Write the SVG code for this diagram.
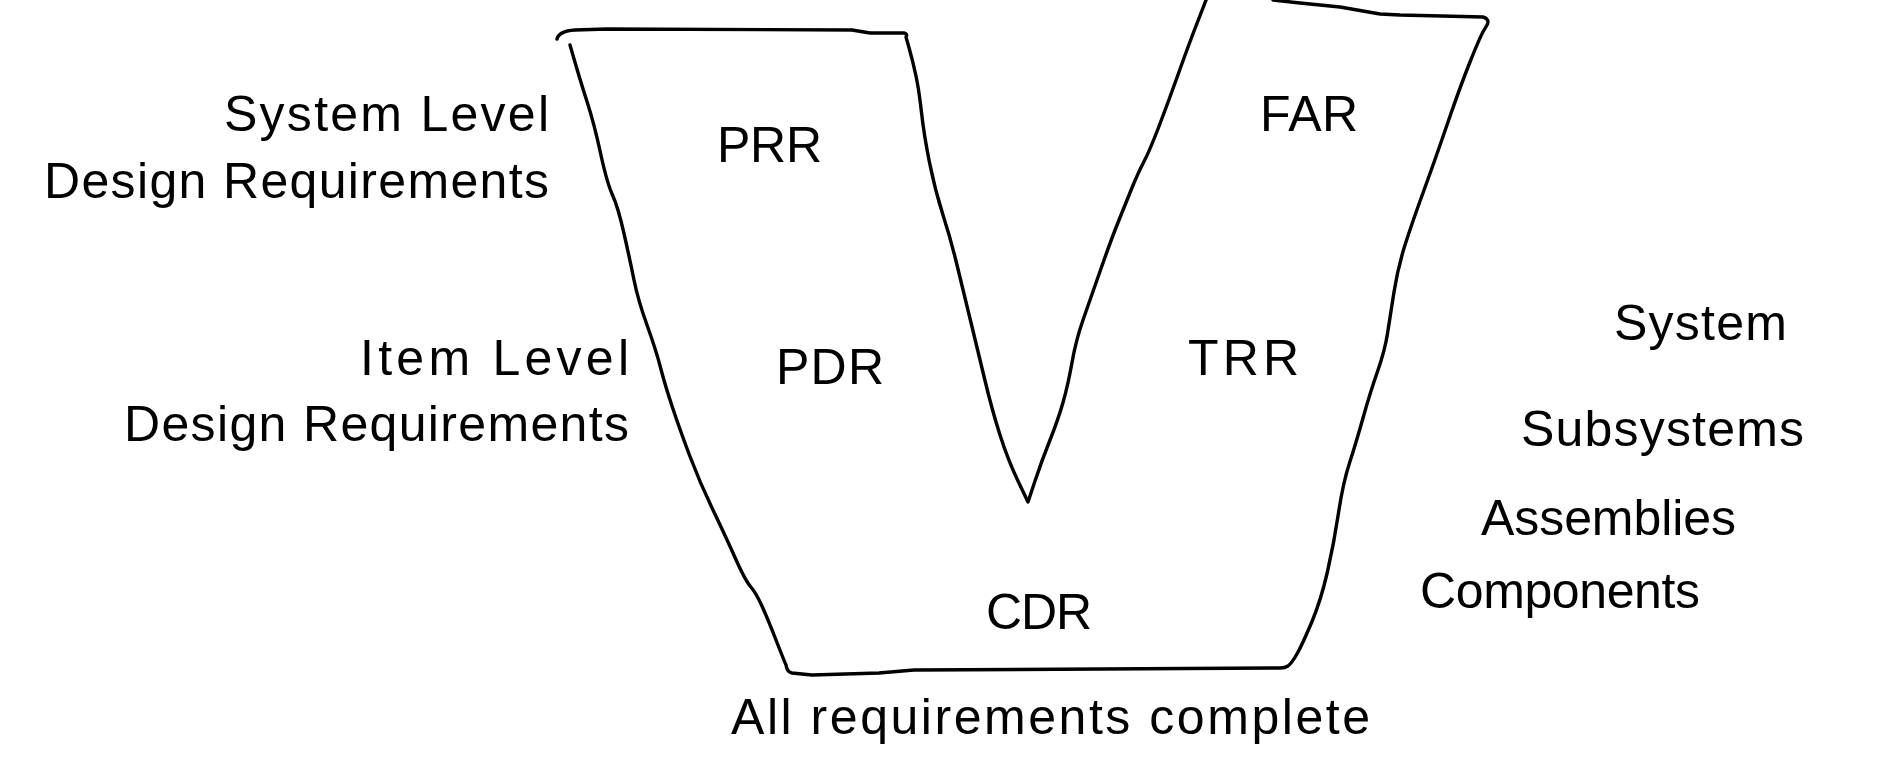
<svg xmlns="http://www.w3.org/2000/svg" width="1881" height="779" viewBox="0 0 1881 779">
  <style>
    .outline { fill: none; stroke: #000; stroke-width: 3.4; stroke-linecap: round; stroke-linejoin: round; }
    .lbl { font-family: "Liberation Sans", Arial, sans-serif; font-size: 50px; fill: #000; }
  </style>
  <rect x="0" y="0" width="1881" height="779" fill="#fff"/>

  <g id="v-shape">
    <path class="outline" d="M 557 39 Q 559 31 575 30 L 607 29 L 852 30 L 870 33 L 904 33 Q 908 34 906 37
      L 909.5 49.5 Q 913 62 916 76 Q 919 90 921.5 112.5 Q 924 135 929.5 162.5 Q 935 190 943 215 Q 951 240 957 265 Q 963 290 970 318.5 Q 977 347 984.5 378.5 Q 992 410 1000 435 Q 1008 460 1018 481 L 1028 502
      L 1035 481 Q 1042 460 1050 440 Q 1058 420 1063 402.5 Q 1068 385 1072 362.5 Q 1076 340 1083 320 Q 1090 300 1100.5 270 Q 1111 240 1118 222.5 Q 1125 205 1131.5 189 Q 1138 173 1144 161.5 Q 1150 150 1159.5 125 Q 1169 100 1177 77.5 Q 1185 55 1192.5 35 L 1208 -5
      L 1270 -5 L 1273 0 L 1300 3 L 1340 7 L 1380 14 L 1400 15 L 1483 17 Q 1490 19 1487 25
      L 1483.5 31 Q 1480 37 1470 62 Q 1460 87 1447.5 123.5 Q 1435 160 1423.5 191.5 Q 1412 223 1405 245 Q 1398 267 1394 292 Q 1390 317 1387.5 333.5 Q 1385 350 1377.5 371.5 Q 1370 393 1363 418 Q 1356 443 1349.5 463 Q 1343 483 1338.5 513 Q 1334 543 1327.5 571.5 Q 1321 600 1312 621.5 Q 1303 643 1297.5 653 Q 1292 663 1288 666 Q 1285 668 1280 668
      L 914 670 L 879 673 L 812 675 L 792 673 Q 787 672 786 665
      Q 785 663 776 640 Q 767 617 761.5 605 Q 756 593 750.5 586.5 Q 745 580 735 557.5 Q 725 535 712.5 509 Q 700 483 690 456.5 Q 680 430 672.5 407.5 Q 665 385 660.5 367.5 Q 656 350 647 325 Q 638 300 634 280 Q 630 260 624 233.5 Q 618 207 612.5 195 Q 607 183 600.5 153 Q 594 123 587 101.5 Q 580 80 570 45"/>
  </g>

  <g id="label-system-level">
    <text class="lbl" x="224" y="131" textLength="325">System Level</text>
    <text class="lbl" x="44" y="198" textLength="505">Design Requirements</text>
  </g>
  <g id="label-item-level">
    <text class="lbl" x="360" y="375" textLength="269">Item Level</text>
    <text class="lbl" x="124" y="441" textLength="505">Design Requirements</text>
  </g>

  <g id="node-prr"><text class="lbl" x="717" y="162" textLength="105">PRR</text></g>
  <g id="node-pdr"><text class="lbl" x="776" y="384" textLength="108">PDR</text></g>
  <g id="node-cdr"><text class="lbl" x="986" y="629" textLength="106">CDR</text></g>
  <g id="node-trr"><text class="lbl" x="1188" y="375" textLength="111">TRR</text></g>
  <g id="node-far"><text class="lbl" x="1260" y="131" textLength="98">FAR</text></g>

  <g id="label-all-complete"><text class="lbl" x="731" y="734" textLength="639">All requirements complete</text></g>

  <g id="label-system"><text class="lbl" x="1614" y="340" textLength="173">System</text></g>
  <g id="label-subsystems"><text class="lbl" x="1521" y="446" textLength="283">Subsystems</text></g>
  <g id="label-assemblies"><text class="lbl" x="1481" y="535" textLength="255">Assemblies</text></g>
  <g id="label-components"><text class="lbl" x="1420" y="608" textLength="280">Components</text></g>
</svg>
